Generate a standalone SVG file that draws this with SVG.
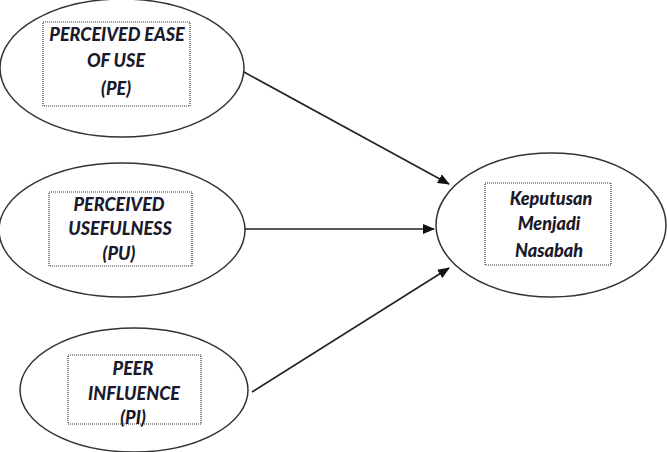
<svg xmlns="http://www.w3.org/2000/svg" width="667" height="452" viewBox="0 0 667 452">
<style>
.node ellipse{fill:#fff;stroke:#333;stroke-width:1.5}
.box{fill:none;stroke:#333;stroke-width:1.2;stroke-dasharray:1 1}
text{font-family:Lato,"Open Sans","Liberation Sans",sans-serif;font-weight:900;font-style:italic;font-size:18px;fill:#1a1a2c;text-anchor:middle}
.conn line{stroke:#222;stroke-width:1.6}
</style>
<defs>
<marker id="ah" markerWidth="12" markerHeight="10" refX="11" refY="5" orient="auto" markerUnits="userSpaceOnUse" viewBox="0 0 12 10">
<path d="M0,0 L12,5 L0,10 z" fill="#111"/>
</marker>
</defs>
<rect width="667" height="452" fill="#fff"/>
<g id="pe" class="node">
<ellipse cx="122" cy="68" rx="122" ry="69"/>
<rect class="box" x="43" y="22" width="147" height="84"/>
<text x="117" y="41">PERCEIVED EASE</text>
<text x="116" y="67">OF USE</text>
<text x="116" y="95">(PE)</text>
</g>
<g id="pu" class="node">
<ellipse cx="122" cy="230" rx="123" ry="67"/>
<rect class="box" x="49" y="192" width="143" height="74"/>
<text x="119" y="211">PERCEIVED</text>
<text x="120" y="235">USEFULNESS</text>
<text x="119" y="260">(PU)</text>
</g>
<g id="pi" class="node">
<ellipse cx="134" cy="390" rx="114" ry="62"/>
<rect class="box" x="68" y="355" width="133" height="69"/>
<text x="133" y="375">PEER</text>
<text x="134" y="400">INFLUENCE</text>
<text x="133" y="424">(PI)</text>
</g>
<g id="kmn" class="node">
<ellipse cx="551" cy="225" rx="115" ry="72"/>
<rect class="box" x="485" y="183" width="126" height="82"/>
<text x="551" y="205">Keputusan</text>
<text x="549" y="230">Menjadi</text>
<text x="549" y="257">Nasabah</text>
</g>
<g id="connectors" class="conn">
<line x1="244" y1="72" x2="449" y2="184" marker-end="url(#ah)"/>
<line x1="245" y1="229" x2="434" y2="229" marker-end="url(#ah)"/>
<line x1="252" y1="392" x2="449" y2="268" marker-end="url(#ah)"/>
</g>
</svg>
